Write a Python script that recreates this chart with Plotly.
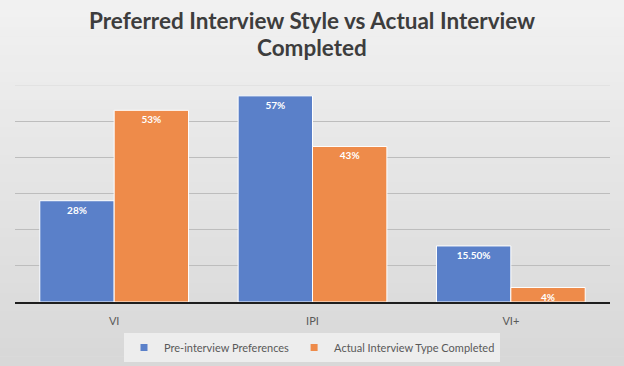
import plotly.graph_objects as go

categories = ["VI", "IPI", "VI+"]
pre_values = [0.28, 0.57, 0.155]
pre_labels = ["28%", "57%", "15.50%"]
actual_values = [0.53, 0.43, 0.04]
actual_labels = ["53%", "43%", "4%"]
series_names = ["Pre-interview Preferences", "Actual Interview Type Completed"]
colors = ["#5a80c9", "#ee8b4a"]
title_lines = ["Preferred Interview Style vs Actual Interview", "Completed"]

W, H = 624, 366
L, R, T, B = 15, 14, 85, 64
fig = go.Figure()
for vals, labs, name, col in [(pre_values, pre_labels, series_names[0], colors[0]),
                              (actual_values, actual_labels, series_names[1], colors[1])]:
    fig.add_trace(go.Bar(
        x=categories, y=vals, name=name, text=labs, texttemplate="<b>%{text}</b>",
        textposition="inside", insidetextanchor="end", showlegend=False,
        marker=dict(color=col, line=dict(color="#ffffff", width=1)),
        textfont=dict(color="white", size=10, family="Lato"),
    ))
# legend entries
for name, col in zip(series_names, colors):
    fig.add_trace(go.Scatter(x=[None], y=[None], mode="markers", name=name,
                             marker=dict(symbol="square", size=7, color=col)))

# background gradient (paper coordinates extended past plot area)
ph = H - T - B
pw = W - L - R
shapes = []
n = 40
for i in range(n):
    py0 = i * H / n
    py1 = (i + 1) * H / n
    t = (i + 0.5) / n
    c = int(242 - 26 * t)
    shapes.append(dict(type="rect", xref="paper", yref="paper",
                       x0=-L / pw - 0.01, x1=1 + R / pw + 0.01,
                       y0=(H - B - py1) / ph, y1=(H - B - py0) / ph + 0.002,
                       fillcolor=f"rgb({c},{c},{c})", line=dict(width=0), layer="below"))
shapes.append(dict(type="line", xref="paper", yref="y", x0=0, x1=1, y0=0.6, y1=0.6,
                   line=dict(color="#dadada", width=1), layer="below"))

annotations = []
for k, line in enumerate(title_lines):
    annotations.append(dict(text=f"<b>{line}</b>", xref="paper", yref="paper",
                            x=(W / 2 - L) / pw, y=(H - B - (20 + 27 * k)) / ph,
                            xanchor="center", yanchor="middle", showarrow=False,
                            font=dict(family="Lato", size=22.5, color="#3d3d3d")))

fig.update_layout(
    width=W, height=H,
    margin=dict(l=L, r=R, t=T, b=B, autoexpand=False),
    paper_bgcolor="#e6e6e6",
    plot_bgcolor="rgba(0,0,0,0)",
    barmode="group", bargap=0.25, bargroupgap=0.0,
    font=dict(family="Lato", color="#595959"),
    showlegend=True,
    legend=dict(orientation="h", x=0.5, xanchor="center", xref="container",
                y=1 - 333 / H, yanchor="top", yref="container",
                bgcolor="#ededed", font=dict(size=11, color="#595959"),
                itemwidth=30, traceorder="normal", tracegroupgap=0),
    xaxis=dict(showline=True, linecolor="#1e1e1e", linewidth=2, automargin=False,
               tickfont=dict(size=11, color="#595959"), ticks="", ticklabelstandoff=8),
    yaxis=dict(range=[0, 0.6], dtick=0.1, showticklabels=False, automargin=False,
               gridcolor="#bdbdbd", gridwidth=1, zeroline=False),
    shapes=shapes,
    annotations=annotations,
    uniformtext=dict(minsize=8, mode="show"),
)
fig.write_html("out.html", config={"displayModeBar": False},
               post_script="document.body.style.margin='0';document.body.style.background='#e6e6e6';")
